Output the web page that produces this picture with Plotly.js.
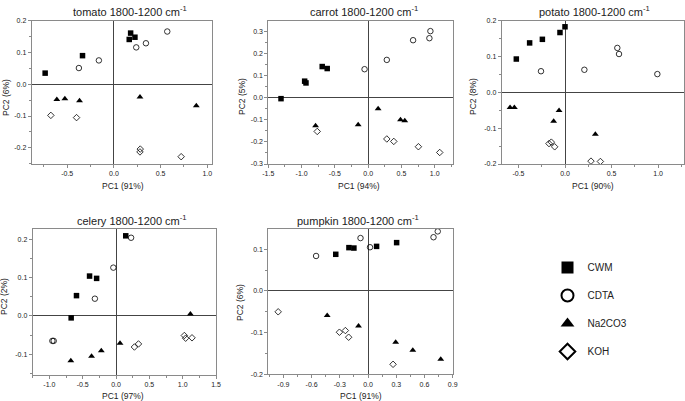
<!DOCTYPE html>
<html>
<head>
<meta charset="utf-8">
<script src="https://cdn.plot.ly/plotly-3.0.1.min.js"></script>
<style>html,body{margin:0;padding:0;background:#fff;}#chart{width:685px;height:401px;}</style>
</head>
<body>
<div id="chart"></div>
<script>
// ---- data ----
const groups = ['CWM', 'CDTA', 'Na2CO3', 'KOH'];
const symbols = ['square', 'circle-open', 'triangle-up', 'diamond-open'];

// panel titles and axis titles
const panelNames = ['tomato', 'carrot', 'potato', 'celery', 'pumpkin'];
const pc1Labels = ['PC1 (91%)', 'PC1 (94%)', 'PC1 (90%)', 'PC1 (97%)', 'PC1 (91%)'];
const pc2Labels = ['PC2 (6%)', 'PC2 (5%)', 'PC2 (8%)', 'PC2 (2%)', 'PC2 (6%)'];

// tomato: [CWM, CDTA, Na2CO3, KOH]
const tomatoX = [
  [-0.736, -0.336, 0.179, 0.164, 0.225],
  [-0.375, -0.161, 0.239, 0.343, 0.571],
  [-0.611, -0.525, -0.368, 0.279, 0.882],
  [-0.675, -0.400, 0.282, 0.279, 0.720]
];
const tomatoY = [
  [0.035, 0.090, 0.161, 0.141, 0.148],
  [0.051, 0.075, 0.116, 0.129, 0.166],
  [-0.048, -0.046, -0.052, -0.040, -0.068],
  [-0.098, -0.105, -0.204, -0.213, -0.228]
];
// carrot
const carrotX = [
  [-1.309, -0.954, -0.934, -0.690, -0.615],
  [-0.054, 0.280, 0.675, 0.920, 0.935],
  [-0.790, -0.150, 0.150, 0.486, 0.550],
  [-0.765, 0.280, 0.385, 0.755, 1.075]
];
const carrotY = [
  [-0.005, 0.074, 0.066, 0.140, 0.131],
  [0.128, 0.170, 0.259, 0.268, 0.300],
  [-0.127, -0.123, -0.051, -0.100, -0.105],
  [-0.153, -0.187, -0.198, -0.222, -0.248]
];
// potato
const potatoX = [
  [-0.523, -0.380, -0.243, -0.054, 0.000],
  [-0.258, 0.208, 0.562, 0.580, 0.992],
  [-0.590, -0.544, -0.064, -0.122, 0.326],
  [-0.172, -0.147, -0.111, 0.279, 0.380]
];
const potatoY = [
  [0.093, 0.138, 0.148, 0.167, 0.183],
  [0.059, 0.063, 0.124, 0.107, 0.051],
  [-0.042, -0.042, -0.051, -0.081, -0.117],
  [-0.143, -0.139, -0.152, -0.192, -0.193]
];
// celery
const celeryX = [
  [-0.673, -0.593, -0.397, -0.291, 0.146],
  [-0.955, -0.935, -0.317, -0.040, 0.226],
  [-0.678, -0.367, -0.221, 0.060, 1.116],
  [0.276, 0.337, 1.025, 1.045, 1.140]
];
const celeryY = [
  [-0.005, 0.053, 0.104, 0.098, 0.209],
  [-0.065, -0.065, 0.045, 0.126, 0.204],
  [-0.117, -0.105, -0.091, -0.071, 0.005],
  [-0.081, -0.073, -0.051, -0.058, -0.057]
];
// pumpkin
const pumpkinX = [
  [-0.343, -0.203, -0.150, 0.091, 0.304],
  [-0.552, -0.080, 0.021, 0.696, 0.741],
  [-0.434, -0.101, 0.294, 0.476, 0.773],
  [-0.955, -0.304, -0.241, -0.206, 0.266]
];
const pumpkinY = [
  [0.088, 0.104, 0.103, 0.107, 0.116],
  [0.084, 0.127, 0.105, 0.129, 0.143],
  [-0.059, -0.084, -0.123, -0.142, -0.164],
  [-0.050, -0.099, -0.095, -0.111, -0.176]
];

// tick labels
const tomatoXTicks = [-0.5, 0.0, 0.5, 1.0];
const tomatoXText = ['-0.5', '0.0', '0.5', '1.0'];
const tomatoYTicks = [-0.2, -0.1, 0.0, 0.1, 0.2];
const tomatoYText = ['-0.2', '-0.1', '0.0', '0.1', '0.2'];
const carrotXTicks = [-1.5, -1.0, -0.5, 0.0, 0.5, 1.0];
const carrotXText = ['-1.5', '-1.0', '-0.5', '0.0', '0.5', '1.0'];
const carrotYTicks = [-0.3, -0.2, -0.1, 0.0, 0.1, 0.2, 0.3];
const carrotYText = ['-0.3', '-0.2', '-0.1', '0.0', '0.1', '0.2', '0.3'];
const potatoXTicks = [-0.5, 0.0, 0.5, 1.0];
const potatoXText = ['-0.5', '0.0', '0.5', '1.0'];
const potatoYTicks = [-0.2, -0.1, 0.0, 0.1, 0.2];
const potatoYText = ['-0.2', '-0.1', '0.0', '0.1', '0.2'];
const celeryXTicks = [-1.0, -0.5, 0.0, 0.5, 1.0, 1.5];
const celeryXText = ['-1.0', '-0.5', '0.0', '0.5', '1.0', '1.5'];
const celeryYTicks = [-0.1, 0.0, 0.1, 0.2];
const celeryYText = ['-0.1', '0.0', '0.1', '0.2'];
const pumpkinXTicks = [-0.9, -0.6, -0.3, 0.0, 0.3, 0.6, 0.9];
const pumpkinXText = ['-0.9', '-0.6', '-0.3', '0.0', '0.3', '0.6', '0.9'];
const pumpkinYTicks = [-0.2, -0.1, 0.0, 0.1];
const pumpkinYText = ['-0.2', '-0.1', '0.0', '0.1'];

// ---- layout geometry (pixels) ----
const W = 685, H = 401;
const px = v => v / W;
const py = v => 1 - v / H;

const panels = [
  {X: tomatoX, Y: tomatoY, box: [31.7, 212, 20.7, 164], xr: [-0.88, 1.05], yr: [-0.251, 0.2],
   xt: tomatoXTicks, xtt: tomatoXText, yt: tomatoYTicks, ytt: tomatoYText, xminor: 0.25, yminor: 0.05,
   title: [130, 11], xtitle: [123, 185.5], ytitle: [6, 98]},
  {X: carrotX, Y: carrotY, box: [268.3, 452.7, 20.7, 164], xr: [-1.5, 1.27], yr: [-0.3, 0.347],
   xt: carrotXTicks, xtt: carrotXText, yt: carrotYTicks, ytt: carrotYText, xminor: 0.25, yminor: 0.05,
   title: [364, 11], xtitle: [359.5, 185.5], ytitle: [242, 97]},
  {X: potatoX, Y: potatoY, box: [501.7, 683.7, 20.7, 164], xr: [-0.68, 1.275], yr: [-0.2, 0.2],
   xt: potatoXTicks, xtt: potatoXText, yt: potatoYTicks, ytt: potatoYText, xminor: 0.25, yminor: 0.05,
   title: [594, 11], xtitle: [592.5, 185.5], ytitle: [473, 96]},
  {X: celeryX, Y: celeryY, box: [32.7, 216, 229.3, 375], xr: [-1.25, 1.5], yr: [-0.154, 0.226],
   xt: celeryXTicks, xtt: celeryXText, yt: celeryYTicks, ytt: celeryYText, xminor: 0.25, yminor: 0.05,
   title: [132, 219.5], xtitle: [123, 395.5], ytitle: [4, 297]},
  {X: pumpkinX, Y: pumpkinY, box: [268.3, 452.7, 229.3, 374.3], xr: [-1.06, 0.9], yr: [-0.2, 0.148],
   xt: pumpkinXTicks, xtt: pumpkinXText, yt: pumpkinYTicks, ytt: pumpkinYText, xminor: 0.15, yminor: 0.05,
   title: [358, 219.5], xtitle: [361, 395.5], ytitle: [240, 303]}
];

const lineCol = '#8a8a8a';
const zeroCol = '#444';
const textCol = '#222';
const FONT = 'Liberation Sans, Arial, sans-serif';

const traces = [];
const layout = {
  width: W, height: H,
  margin: {l: 0, r: 0, t: 0, b: 0},
  paper_bgcolor: '#fff', plot_bgcolor: '#fff',
  font: {family: FONT, color: textCol, size: 7},
  showlegend: true,
  legend: {
    x: px(547.5), y: py(253), xanchor: 'left', yanchor: 'top',
    font: {family: FONT, size: 10, color: textCol},
    itemsizing: 'constant', traceorder: 'grouped', tracegroupgap: 9,
    bgcolor: 'rgba(0,0,0,0)'
  },
  annotations: []
};

panels.forEach((p, i) => {
  const n = i + 1;
  const xa = n === 1 ? 'xaxis' : 'xaxis' + n;
  const ya = n === 1 ? 'yaxis' : 'yaxis' + n;
  const xref = n === 1 ? 'x' : 'x' + n;
  const yref = n === 1 ? 'y' : 'y' + n;
  groups.forEach((g, k) => {
    const filled = k === 0 || k === 2;
    traces.push({
      type: 'scatter', mode: 'markers',
      x: p.X[k], y: p.Y[k], xaxis: xref, yaxis: yref,
      name: g, legendgroup: g, showlegend: i === 0,
      marker: {
        symbol: symbols[k],
        size: k === 3 ? 5 : (k === 2 ? 6 : 5.5),
        color: '#000',
        line: {color: filled ? '#000' : '#333', width: filled ? 0 : 0.8}
      },
      cliponaxis: false, hoverinfo: 'skip'
    });
  });
  const common = {
    showgrid: false, zeroline: true, zerolinecolor: zeroCol, zerolinewidth: 1,
    showline: true, linecolor: lineCol, linewidth: 1, mirror: true,
    ticks: 'outside', ticklen: 3, tickcolor: lineCol, tickwidth: 1,
    tickfont: {family: FONT, size: 7, color: textCol},
    tickmode: 'array', fixedrange: true
  };
  layout[xa] = Object.assign({}, common, {
    domain: [px(p.box[0]), px(p.box[1])], range: p.xr, anchor: yref,
    tickvals: p.xt, ticktext: p.xtt,
    minor: {tickmode: 'linear', tick0: 0, dtick: p.xminor, ticks: 'outside', ticklen: 2, tickcolor: lineCol}
  });
  layout[ya] = Object.assign({}, common, {
    domain: [py(p.box[3]), py(p.box[2])], range: p.yr, anchor: xref,
    tickvals: p.yt, ticktext: p.ytt,
    minor: {tickmode: 'linear', tick0: 0, dtick: p.yminor, ticks: 'outside', ticklen: 2, tickcolor: lineCol}
  });
  layout.annotations.push({
    text: panelNames[i] + ' 1800-1200 cm<sup>-1</sup>', xref: 'paper', yref: 'paper',
    x: px(p.title[0]), y: py(p.title[1]), xanchor: 'center', yanchor: 'middle',
    showarrow: false, font: {family: FONT, size: 11, color: textCol}
  });
  layout.annotations.push({
    text: pc1Labels[i], xref: 'paper', yref: 'paper',
    x: px(p.xtitle[0]), y: py(p.xtitle[1]), xanchor: 'center', yanchor: 'middle',
    showarrow: false, font: {family: FONT, size: 8.5, color: textCol}
  });
  layout.annotations.push({
    text: pc2Labels[i], xref: 'paper', yref: 'paper', textangle: -90,
    x: px(p.ytitle[0]), y: py(p.ytitle[1]), xanchor: 'center', yanchor: 'middle',
    showarrow: false, font: {family: FONT, size: 8.5, color: textCol}
  });
});

Plotly.newPlot('chart', traces, layout, {displayModeBar: false, staticPlot: true});
</script>
</body>
</html>
